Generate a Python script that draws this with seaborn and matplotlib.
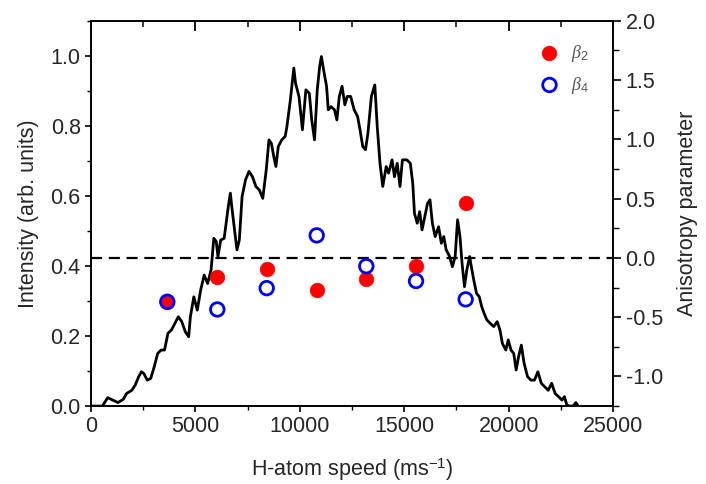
import matplotlib
matplotlib.use("Agg")
import matplotlib.pyplot as plt
import matplotlib.lines as mlines
import seaborn as sns
import numpy as np
import pandas as pd
from matplotlib.ticker import MultipleLocator

# ---- data ----
speed = [51, 298, 546, 794, 1041, 1289, 1537, 1702, 1950, 2115, 2280, 2412, 2527, 2692, 2858,
         3023, 3188, 3353, 3518, 3683, 3848, 4013, 4178, 4343, 4508, 4673, 4756, 4921, 5086,
         5251, 5416, 5581, 5747, 5879, 5994, 6077, 6209, 6374, 6572, 6671, 6737, 6869, 6985,
         7100, 7232, 7398, 7563, 7728, 7893, 8058, 8223, 8388, 8520, 8636, 8751, 8851, 8966,
         9131, 9296, 9379, 9544, 9710, 9792, 9957, 10122, 10287, 10452, 10568, 10700, 10832,
         10948, 11030, 11162, 11278, 11360, 11492, 11657, 11773, 11888, 12020, 12153, 12268,
         12433, 12598, 12763, 12879, 13011, 13143, 13259, 13424, 13589, 13705, 13837, 13969,
         14134, 14250, 14415, 14530, 14662, 14795, 14910, 15125, 15290, 15406, 15488, 15620,
         15736, 15851, 15983, 16115, 16231, 16346, 16478, 16643, 16775, 16891, 17006, 17172,
         17304, 17436, 17552, 17667, 17766, 17882, 17997, 18129, 18212, 18327, 18459, 18591,
         18707, 18822, 18955, 19120, 19285, 19450, 19582, 19698, 19863, 19978, 20110, 20242,
         20358, 20474, 20606, 20738, 20903, 21068, 21233, 21398, 21563, 21728, 21893, 22058,
         22223, 22388, 22553, 22669, 22785, 22917, 23082, 23214, 23329]
intensity = [0.0, 0.0, 0.0, 0.024, 0.017, 0.01, 0.019, 0.036, 0.045, 0.06, 0.084, 0.098, 0.093,
             0.074, 0.079, 0.112, 0.15, 0.16, 0.16, 0.208, 0.217, 0.236, 0.255, 0.241, 0.213,
             0.198, 0.255, 0.312, 0.274, 0.332, 0.374, 0.35, 0.389, 0.479, 0.47, 0.427, 0.474,
             0.479, 0.57, 0.608, 0.57, 0.503, 0.446, 0.474, 0.598, 0.646, 0.67, 0.655, 0.627,
             0.617, 0.593, 0.674, 0.76, 0.75, 0.712, 0.684, 0.741, 0.76, 0.77, 0.798, 0.874,
             0.965, 0.922, 0.884, 0.789, 0.903, 0.893, 0.817, 0.76, 0.903, 0.97, 0.998, 0.951,
             0.913, 0.846, 0.855, 0.846, 0.817, 0.884, 0.913, 0.86, 0.884, 0.884, 0.846, 0.827,
             0.789, 0.741, 0.732, 0.779, 0.884, 0.917, 0.798, 0.693, 0.627, 0.684, 0.665, 0.703,
             0.655, 0.693, 0.627, 0.703, 0.703, 0.693, 0.636, 0.55, 0.522, 0.555, 0.503, 0.541,
             0.579, 0.589, 0.522, 0.484, 0.512, 0.465, 0.484, 0.446, 0.427, 0.398, 0.427, 0.532,
             0.484, 0.408, 0.341, 0.389, 0.427, 0.398, 0.36, 0.322, 0.312, 0.284, 0.265, 0.246,
             0.236, 0.227, 0.241, 0.217, 0.179, 0.16, 0.189, 0.16, 0.15, 0.103, 0.141, 0.174,
             0.122, 0.084, 0.074, 0.074, 0.098, 0.065, 0.055, 0.045, 0.065, 0.036, 0.027, 0.017,
             0.027, 0.003, 0.0, 0.0, 0.01, 0.0]

beta_speed = [3650, 6045, 8411, 10806, 13182, 15563, 17940]
beta2 = [-0.37, -0.16, -0.09, -0.27, -0.175, -0.07, 0.465]
beta4 = [-0.37, -0.435, -0.255, 0.19, -0.07, -0.195, -0.35]

x_ticks = [0, 5000, 10000, 15000, 20000, 25000]
x_minor_ticks = [2500, 7500, 12500, 17500, 22500]
x_ticklabels = ["0", "5000", "10000", "15000", "20000", "25000"]
left_ticks = [0.0, 0.2, 0.4, 0.6, 0.8, 1.0]
right_ticks = [-1.0, -0.5, 0.0, 0.5, 1.0, 1.5, 2.0]

# ---- style ----
sns.set_style("ticks")
plt.rcParams['font.family'] = ['Liberation Sans', 'DejaVu Sans']
plt.rcParams['mathtext.fontset'] = 'custom'
plt.rcParams['mathtext.it'] = 'Liberation Serif:italic'
plt.rcParams['mathtext.rm'] = 'Liberation Sans'

RECT = [0.129, 0.161, 0.7394, 0.796]
fig = plt.figure(figsize=(7.06, 4.84), dpi=100)
ax = fig.add_axes(RECT)

df_line = pd.DataFrame({"speed": speed, "intensity": intensity})
sns.lineplot(data=df_line, x="speed", y="intensity", ax=ax, color="black", lw=2.0,
             estimator=None, sort=False)

ax2 = ax.twinx()
ax2.axhline(0.0, color="black", lw=1.6, ls=(0, (5, 3)))
df_b = pd.DataFrame({"speed": beta_speed, "b2": beta2, "b4": beta4})
sns.scatterplot(data=df_b, x="speed", y="b2", ax=ax2, color="red", s=110,
                edgecolor="red", linewidth=0.5, label=r"$\beta_2$", zorder=4)
sns.scatterplot(data=df_b, x="speed", y="b4", ax=ax2, facecolor="none", s=95,
                edgecolor="blue", linewidth=2.0, label=r"$\beta_4$", zorder=5)
ax2.set_xlabel("")

# ---- left / bottom axes ----
ax.set_xlim(0, 25000)
ax.set_ylim(0, 1.1)
ax.set_xticks(x_ticks)
ax.set_xticklabels(x_ticklabels)
ax.set_yticks(left_ticks)
ax.set_yticklabels([f"{t:.1f}" for t in left_ticks])
ax.xaxis.set_minor_locator(MultipleLocator(2500))
ax.yaxis.set_minor_locator(MultipleLocator(0.1))
ax.tick_params(axis='both', which='major', direction='out', length=4.5, width=1.2,
               labelsize=15.5, pad=3, top=False, right=False, color="black")
ax.tick_params(axis='both', which='minor', direction='out', length=3, width=1.0,
               top=False, right=False, color="black")
ax.set_xlabel("H-atom speed (ms$^{-1}$)", fontsize=15.5, labelpad=14)
ax.set_ylabel("Intensity (arb. units)", fontsize=15.5, labelpad=8)

# ---- right axis ----
ax2.set_ylim(-1.25, 2.0)
ax2.set_yticks(right_ticks)
ax2.set_yticklabels([f"{t:.1f}" for t in right_ticks])
ax2.yaxis.set_minor_locator(MultipleLocator(0.25))
ax2.tick_params(axis='y', which='major', direction='out', length=6, width=1.2,
                labelsize=15.5, pad=3, color="black")
ax2.tick_params(axis='y', which='minor', direction='out', length=4, width=1.0,
                color="black")
ax2.set_ylabel("Anisotropy parameter", fontsize=15.5, labelpad=10)

for a in (ax, ax2):
    for s in a.spines.values():
        s.set_linewidth(1.2)
        s.set_color("black")

leg = ax2.legend(loc="upper right", frameon=False, fontsize=13, handletextpad=0.2,
                 labelspacing=0.6, borderaxespad=0.5, bbox_to_anchor=(0.985, 0.985))
for t in leg.get_texts():
    t.set_color("#555555")

# ---- top-edge ticks pointing inward, drawn on the twin axes at the x tick values ----
xtr2 = ax2.get_xaxis_transform()
ax2.plot(x_ticks, [1.0] * len(x_ticks), transform=xtr2, ls="none",
         marker=mlines.TICKDOWN, markersize=7, markeredgewidth=1.3,
         markeredgecolor="black", color="black", clip_on=False, zorder=10)
ax2.plot(x_minor_ticks, [1.0] * len(x_minor_ticks), transform=xtr2, ls="none",
         marker=mlines.TICKDOWN, markersize=4, markeredgewidth=1.1,
         markeredgecolor="black", color="black", clip_on=False, zorder=10)
ax2.set_xlim(0, 25000)

fig.savefig("out.png", dpi=100)
